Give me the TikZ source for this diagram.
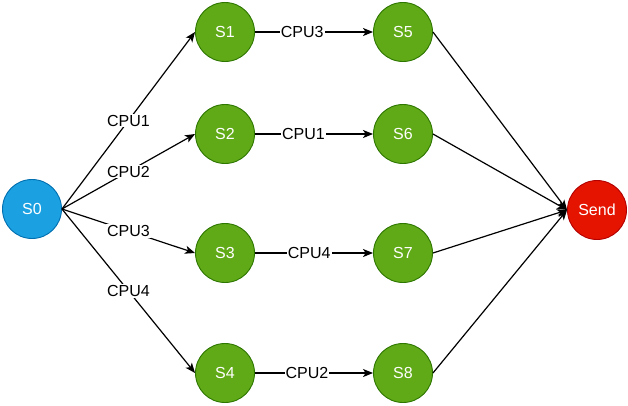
\documentclass[tikz,border=0pt]{standalone}
\usepackage{fontspec}
\setmainfont{Liberation Sans}
\usetikzlibrary{arrows.meta}
\begin{document}
\begin{tikzpicture}[x=1pt,y=-1pt,
  state/.style={circle,minimum size=59pt,inner sep=0pt,line width=0.9pt,text=white,font=\fontsize{16}{18}\selectfont},
  startst/.style={state,fill=startblue,draw=startblueline},
  midst/.style={state,fill=midgreen,draw=midgreenline},
  endst/.style={state,fill=endred,draw=endredline},
  conn/.style={line width=1.2pt,-{Stealth[length=10pt,width=8pt,inset=2.5pt]}},
  lbl/.style={fill=white,inner sep=1pt,font=\fontsize{16}{18}\selectfont}
]
\definecolor{startblue}{HTML}{1BA1E2}
\definecolor{startblueline}{HTML}{006EAF}
\definecolor{midgreen}{HTML}{60A917}
\definecolor{midgreenline}{HTML}{2D7600}
\definecolor{endred}{HTML}{E51400}
\definecolor{endredline}{HTML}{B20000}
\useasboundingbox (0,0) rectangle (628,405);
\node[startst] (s0) at (32,209) {S0};
\node[midst] (s1) at (225,32) {S1};
\node[midst] (s2) at (225,134) {S2};
\node[midst] (s3) at (225,253) {S3};
\node[midst] (s4) at (225,373) {S4};
\node[midst] (s5) at (403,32) {S5};
\node[midst] (s6) at (403,134) {S6};
\node[midst] (s7) at (403,253) {S7};
\node[midst] (s8) at (403,373) {S8};
\node[endst] (send) at (597,210) {Send};
\draw[conn] (s0.east) -- node[lbl,pos=0.5] {CPU1} (s1.west);
\draw[conn] (s0.east) -- node[lbl,pos=0.5] {CPU2} (s2.west);
\draw[conn] (s0.east) -- node[lbl,pos=0.5] {CPU3} (s3.west);
\draw[conn] (s0.east) -- node[lbl,pos=0.5] {CPU4} (s4.west);
\draw[conn] (s1) -- node[lbl,pos=0.40] {CPU3} (s5);
\draw[conn] (s2) -- node[lbl,pos=0.41] {CPU1} (s6);
\draw[conn] (s3) -- node[lbl,pos=0.46] {CPU4} (s7);
\draw[conn] (s4) -- node[lbl,pos=0.44] {CPU2} (s8);
\draw[conn] (s5.east) -- (send.west);
\draw[conn] (s6.east) -- (send.west);
\draw[conn] (s7.east) -- (send.west);
\draw[conn] (s8.east) -- (send.west);
\end{tikzpicture}
\end{document}
